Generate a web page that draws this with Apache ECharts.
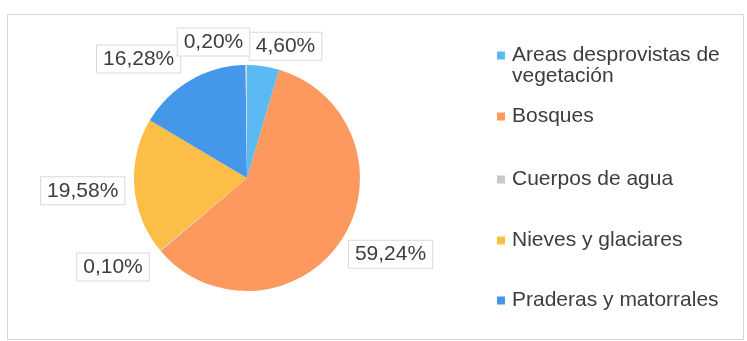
<!DOCTYPE html>
<html>
<head>
<meta charset="utf-8">
<script src="https://cdn.jsdelivr.net/npm/echarts@6/dist/echarts.min.js"></script>
<style>
  html, body { margin: 0; padding: 0; background: #ffffff; }
  #chart { width: 747px; height: 341px; }
</style>
</head>
<body>
<div id="chart"></div>
<script>
// Land-cover shares (%)
const categories = [
  'Areas desprovistas de vegetación',
  'Bosques',
  'Cuerpos de agua',
  'Nieves y glaciares',
  'Praderas y matorrales',
  'Sin clasificar'
];
const shares = [4.60, 59.24, 0.10, 19.58, 16.28, 0.20];
const sliceColors = ['#5bb9f4', '#fd985f', '#c8c8c8', '#fcbe46', '#4597ea', '#d8d8d8'];
// Only these appear in the key
const legendNames = categories.slice(0, 5);

// layout tweaks (pixels)
const legendTops = [40, 101, 164, 225, 285];
const labelNudge = [[-20, -10], [-6, 9], [1, 10], [0, 3], [15, -27], [8, -13]];

const FONT = '"Liberation Sans", Arial, sans-serif';
const TEXT = '#3d3d3d';
const FS = 21;
const LH = 21;

const chart = echarts.init(document.getElementById('chart'), null, { renderer: 'canvas' });

const pieData = categories.map((name, i) => ({
  name: name,
  value: shares[i],
  itemStyle: { color: sliceColors[i] }
}));

// 8px swatch with a little breathing room before the text
const swatch = 'path://M0,0H8V8H0Z M10,0L10,0.01';
// same swatch, sitting beside the first of two text lines
const tallSwatch = 'path://M0,6.5H8V14.5H0Z M0,0L0.01,0 M10,42L10,41.99';

const legends = legendNames.map((name, i) => ({
  data: [name],
  orient: 'vertical',
  left: 492,
  top: legendTops[i],
  itemWidth: 10,
  itemHeight: i === 0 ? 2 * LH : 8,
  icon: i === 0 ? tallSwatch : swatch,
  selectedMode: false,
  formatter: n => n === categories[0] ? 'Areas desprovistas de\nvegetación' : n,
  textStyle: {
    fontFamily: FONT,
    fontSize: FS,
    color: TEXT,
    lineHeight: LH
  }
}));

chart.setOption({
  backgroundColor: '#ffffff',
  animation: false,
  graphic: [{
    type: 'rect',
    shape: { x: 7.5, y: 14.5, width: 736, height: 325 },
    style: { fill: 'none', stroke: '#d6d6d6', lineWidth: 1 },
    silent: true
  }],
  legend: legends,
  series: [{
    type: 'pie',
    center: [247, 178],
    radius: 113,
    startAngle: 90,
    clockwise: true,
    avoidLabelOverlap: true,
    data: pieData,
    label: {
      show: true,
      position: 'outside',
      formatter: p => p.value.toFixed(2).replace('.', ',') + '%',
      fontFamily: FONT,
      fontSize: FS,
      color: TEXT,
      backgroundColor: '#ffffff',
      borderColor: '#d9d9d9',
      borderWidth: 1,
      padding: [3, 6]
    },
    labelLine: { show: false, length: 10, length2: 0 },
    labelLayout: p => ({ dx: labelNudge[p.dataIndex][0], dy: labelNudge[p.dataIndex][1] }),
    emphasis: { disabled: true }
  }]
});
</script>
</body>
</html>
